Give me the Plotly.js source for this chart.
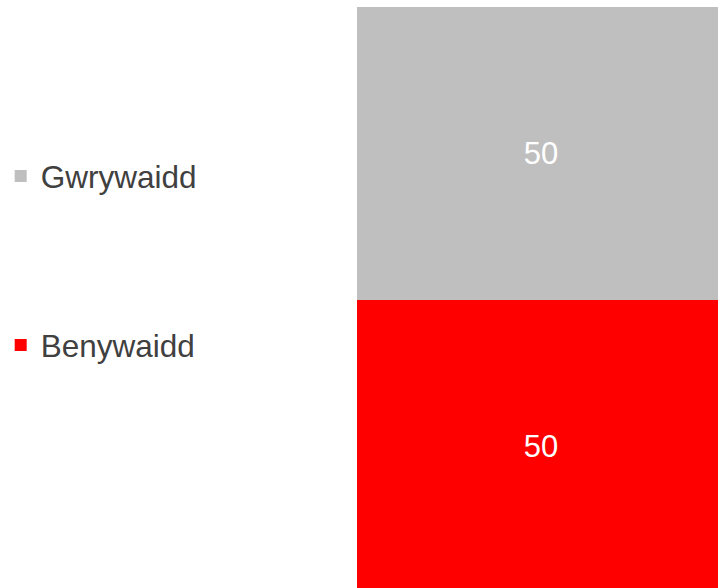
<!DOCTYPE html>
<html>
<head>
<meta charset="utf-8">
<script src="https://cdn.plot.ly/plotly-3.0.1.min.js"></script>
<style>html,body{margin:0;padding:0;background:#fff;overflow:hidden}</style>
</head>
<body>
<div id="chart" style="width:718px;height:588px"></div>
<script>
const categories = ["Cyfanswm"];
const seriesNames = ["Benywaidd", "Gwrywaidd"];
const benywaidd = [50];
const gwrywaidd = [50];
const colors = {Benywaidd: "#ff0000", Gwrywaidd: "#bfbfbf"};

const font = "'Liberation Sans', Arial, sans-serif";

const traces = [
  {
    type: "bar", name: seriesNames[0], x: categories, y: benywaidd,
    marker: {color: colors.Benywaidd},
    text: benywaidd.map(String), textposition: "inside", insidetextanchor: "middle",
    textfont: {color: "#ffffff", size: 31, family: font},
    legend: "legend2", hoverinfo: "none"
  },
  {
    type: "bar", name: seriesNames[1], x: categories, y: gwrywaidd,
    marker: {color: colors.Gwrywaidd},
    text: gwrywaidd.map(String), textposition: "inside", insidetextanchor: "middle",
    textfont: {color: "#ffffff", size: 31, family: font},
    legend: "legend", hoverinfo: "none"
  }
];

const legendBase = {
  x: -0.987, xanchor: "left", yanchor: "middle",
  font: {size: 31.5, color: "#404040", family: font},
  bgcolor: "rgba(0,0,0,0)", borderwidth: 0
};

const layout = {
  width: 718, height: 588,
  margin: {l: 357, r: 0, t: 7, b: 0, pad: 0},
  barmode: "stack", bargap: 0,
  paper_bgcolor: "#ffffff", plot_bgcolor: "#ffffff",
  font: {family: font},
  showlegend: true,
  legend: Object.assign({}, legendBase, {y: 0.7091}),
  legend2: Object.assign({}, legendBase, {y: 0.4182}),
  xaxis: {visible: false, range: [-0.5, 0.481], showgrid: false, zeroline: false},
  yaxis: {visible: false, range: [0.85, 100], showgrid: false, zeroline: false}
};

Plotly.newPlot("chart", traces, layout, {displayModeBar: false, staticPlot: true});
</script>
</body>
</html>
